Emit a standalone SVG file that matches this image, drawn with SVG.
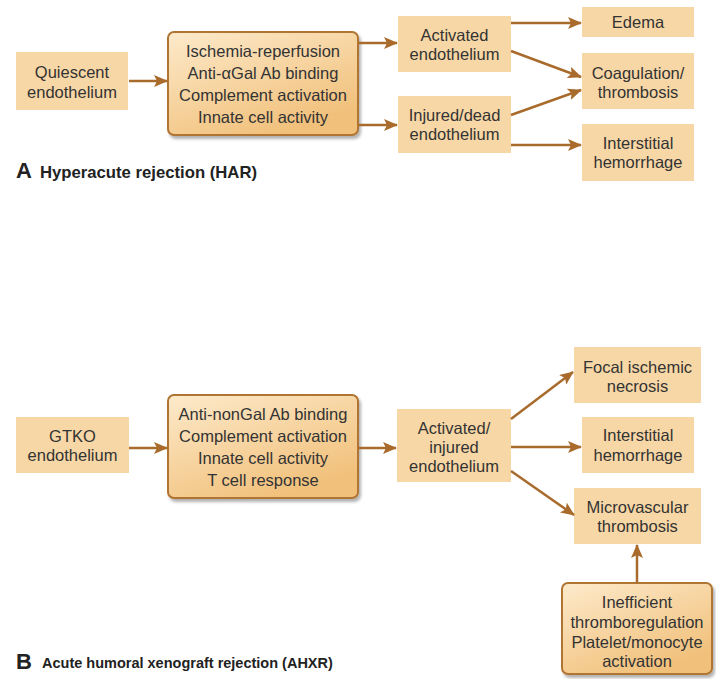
<svg xmlns="http://www.w3.org/2000/svg" width="716" height="679" viewBox="0 0 716 679">
<style>
  .box { fill: #F8D7A6; }
  .rbox { fill: url(#grad); stroke: #B07432; stroke-width: 2; filter: url(#shadow); }
  text { font-family: "Liberation Sans", Arial, sans-serif; font-size: 16.5px; fill: #333333; text-anchor: middle; }
  .lbl { text-anchor: start; font-weight: bold; fill: #222222; }
  .big { font-size: 22px; }
  .sub { font-size: 16.7px; }
  .con line { stroke: #A96B2C; stroke-width: 2.5; fill: none; marker-end: url(#ah); }
</style>
<defs>
  <linearGradient id="grad" x1="0" y1="0" x2="0.6" y2="1">
    <stop offset="0" stop-color="#FDEACB"/>
    <stop offset="1" stop-color="#F1C07A"/>
  </linearGradient>
  <filter id="shadow" x="-10%" y="-10%" width="125%" height="130%">
    <feDropShadow dx="2" dy="3" stdDeviation="1.8" flood-color="#000000" flood-opacity="0.3"/>
  </filter>
  <marker id="ah" markerUnits="userSpaceOnUse" markerWidth="14" markerHeight="12" refX="13" refY="6" orient="auto">
    <path d="M0,0 L14,6 L0,12 L3,6 z" fill="#A96B2C"/>
  </marker>
</defs>

<!-- Panel A -->
<g id="quiescent">
  <rect class="box" x="16" y="52" width="112" height="58"/>
  <text x="72" y="78">Quiescent</text>
  <text x="72" y="98">endothelium</text>
</g>
<g id="mechA">
  <rect class="rbox" x="168" y="32" width="190" height="103" rx="6"/>
  <text x="263" y="56.5">Ischemia-reperfusion</text>
  <text x="263" y="78.5">Anti-αGal Ab binding</text>
  <text x="263" y="100.5">Complement activation</text>
  <text x="263" y="122.5">Innate cell activity</text>
</g>
<g id="activatedA">
  <rect class="box" x="398" y="16" width="113" height="56"/>
  <text x="454.5" y="41">Activated</text>
  <text x="454.5" y="60">endothelium</text>
</g>
<g id="injuredA">
  <rect class="box" x="398" y="96" width="113" height="57"/>
  <text x="454.5" y="121">Injured/dead</text>
  <text x="454.5" y="140">endothelium</text>
</g>
<g id="edema">
  <rect class="box" x="582" y="7" width="112" height="30"/>
  <text x="638" y="28">Edema</text>
</g>
<g id="coag">
  <rect class="box" x="582" y="53" width="112" height="56"/>
  <text x="638" y="78.5">Coagulation/</text>
  <text x="638" y="97.5">thrombosis</text>
</g>
<g id="hemA">
  <rect class="box" x="582" y="124" width="112" height="57"/>
  <text x="638" y="149">Interstitial</text>
  <text x="638" y="168">hemorrhage</text>
</g>
<g id="labelA">
  <text class="lbl big" x="16" y="178">A</text>
  <text class="lbl sub" x="40" y="178">Hyperacute rejection (HAR)</text>
</g>

<!-- Panel B -->
<g id="gtko">
  <rect class="box" x="16" y="417" width="113" height="56"/>
  <text x="72.5" y="442">GTKO</text>
  <text x="72.5" y="461">endothelium</text>
</g>
<g id="mechB">
  <rect class="rbox" x="168" y="395" width="190" height="103" rx="6"/>
  <text x="263" y="419.5">Anti-nonGal Ab binding</text>
  <text x="263" y="441.5">Complement activation</text>
  <text x="263" y="463.5">Innate cell activity</text>
  <text x="263" y="485.5">T cell response</text>
</g>
<g id="activatedB">
  <rect class="box" x="397" y="409" width="114" height="73"/>
  <text x="454" y="434">Activated/</text>
  <text x="454" y="453">injured</text>
  <text x="454" y="472">endothelium</text>
</g>
<g id="focal">
  <rect class="box" x="574" y="347" width="127" height="56"/>
  <text x="637.5" y="373">Focal ischemic</text>
  <text x="637.5" y="392">necrosis</text>
</g>
<g id="hemB">
  <rect class="box" x="582" y="417" width="112" height="56"/>
  <text x="638" y="441">Interstitial</text>
  <text x="638" y="461">hemorrhage</text>
</g>
<g id="micro">
  <rect class="box" x="574" y="488" width="127" height="56"/>
  <text x="637.5" y="513">Microvascular</text>
  <text x="637.5" y="532">thrombosis</text>
</g>
<g id="ineff">
  <rect class="rbox" x="562" y="583" width="150" height="91" rx="6"/>
  <text x="637" y="608">Inefficient</text>
  <text x="637" y="628">thromboregulation</text>
  <text x="637" y="648">Platelet/monocyte</text>
  <text x="637" y="667">activation</text>
</g>
<g id="labelB">
  <text class="lbl big" x="16" y="669">B</text>
  <text class="lbl" x="42" y="668" style="font-size:14.5px">Acute humoral xenograft rejection (AHXR)</text>
</g>

<g id="connectors" class="con">
  <line x1="129" y1="81" x2="167" y2="81"/>
  <line x1="359" y1="43" x2="397" y2="43"/>
  <line x1="359" y1="125" x2="397" y2="125"/>
  <line x1="511" y1="23" x2="581" y2="23"/>
  <line x1="511" y1="51" x2="581" y2="77"/>
  <line x1="511" y1="115" x2="581" y2="90"/>
  <line x1="511" y1="145" x2="581" y2="145"/>
  <line x1="129" y1="448" x2="167" y2="448"/>
  <line x1="359" y1="448" x2="396" y2="448"/>
  <line x1="511" y1="419" x2="573" y2="372"/>
  <line x1="511" y1="447" x2="581" y2="447"/>
  <line x1="511" y1="471" x2="574" y2="515"/>
  <line x1="637" y1="583" x2="637" y2="545"/>
</g>
</svg>
